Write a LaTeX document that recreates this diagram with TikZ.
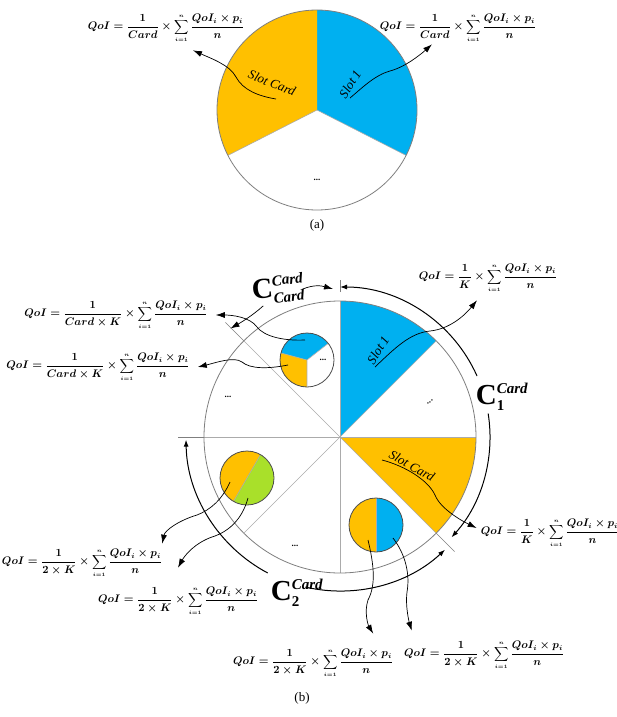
\documentclass[tikz,border=0pt]{standalone}
\usepackage{fontspec}
\setmainfont{Liberation Serif}
\usetikzlibrary{arrows.meta,positioning,calc}
\definecolor{Celeste}{HTML}{00B0F0}
\definecolor{Ambar}{HTML}{FFC000}
\definecolor{Lima}{HTML}{A9E02A}
\definecolor{GrisLinea}{HTML}{ABABAB}
\definecolor{GrisBorde}{HTML}{7F7F7F}
\newcommand{\qoi}[1]{$\displaystyle QoI=\frac{1}{#1}\times\sum_{\scriptscriptstyle i=1}^{\scriptscriptstyle n}\frac{QoI_i\times p_i}{n}$}
\newcommand{\cetiq}[1]{$\mbox{\bfseries C}^{\mbox{\fontsize{15}{15}\selectfont\bfseries\itshape Card}}_{\mbox{\fontsize{15}{15}\selectfont\bfseries #1}}$}

\begin{document}
\begin{tikzpicture}[x=1pt,y=1pt,
    formula/.style={inner sep=0pt,font=\fontsize{10.5}{12}\selectfont\boldmath},
    slotlbl/.style={font=\fontsize{13}{14}\selectfont\itshape},
    puntos/.style={font=\small\bfseries},
    cetq/.style={inner sep=0pt,font=\fontsize{29}{29}\selectfont},
    radio/.style={draw=GrisLinea,line width=.6pt},
    marca/.style={draw=GrisBorde,line width=.7pt},
    borde/.style={draw=GrisBorde,line width=.8pt},
    bordech/.style={draw=black!70,line width=.8pt},
    enlace/.style={-{Latex[length=9pt,width=6pt]},line width=.7pt},
    arco/.style={-{Latex[length=7pt,width=5pt]},line width=1pt}]
\useasboundingbox (0,0) rectangle (617,-717);
% (a)
\coordinate (ca) at (317,-110);
\fill[Celeste] (ca) -- ++(90:100) arc[start angle=90,end angle=-27,radius=100pt] -- cycle;
\fill[Ambar] (ca) -- ++(90:100) arc[start angle=90,end angle=207,radius=100pt] -- cycle;
\draw[radio] (ca) -- ++(-27:100) (ca) -- ++(207:100);
\draw[borde] (ca) circle[radius=100pt];
\node[slotlbl,rotate=-22] (sca) at (272,-83) {Slot Card};
\node[slotlbl,rotate=58] (s1a) at (350,-84) {Slot 1};
\node[puntos] (pa) at (317,-180) {...};
\node[formula] (fa1) at (166,-28) {\qoi{Card}};
\node[formula] (fa2) at (458,-28) {\qoi{Card}};
\node[font=\fontsize{13}{15}\selectfont] (etqa) at (317,-225) {(a)};
\coordinate (oa1) at (276,-99);
\coordinate (oa2) at (350,-98);
\draw[enlace] (oa1) .. controls (258,-96) and (243,-90) .. (236,-77) .. controls (230,-65) and (210,-58) .. ($(fa1.south)+(27,-8)$);
\draw[enlace] (oa2) .. controls (362,-88) and (375,-75) .. (390,-71) .. controls (405,-67) and (420,-55) .. ($(fa2.south)+(-26,-2)$);
% (b)
\coordinate (cb) at (340,-437);
\fill[Celeste] (cb) -- ++(45:136) arc[start angle=45,end angle=90,radius=136pt] -- cycle;
\fill[Ambar] (cb) -- ++(0:136) arc[start angle=0,end angle=-45,radius=136pt] -- cycle;
\foreach \a in {0,45,...,315} \draw[radio] (cb) -- ++(\a:136);
\draw[borde] (cb) circle[radius=136pt];
\draw[marca] (cb) ++(90:145) -- ++(90:12) coordinate (t90);
\foreach \a/\n in {135/t135,180/t180,-45/tm45} \draw[marca] (cb) ++(\a:136) -- ++(\a:26) coordinate (\n);
% arcos
\draw[arco] (cb) ++(24:150) arc[start angle=24,end angle=90,radius=150pt];
\draw[arco] (cb) ++(9:150) arc[start angle=9,end angle=-42,radius=150pt];
\draw[arco] (cb) ++(242:154) arc[start angle=242,end angle=181,radius=154pt];
\draw[arco] (cb) ++(257:154) arc[start angle=257,end angle=313,radius=154pt];
\node[cetq] (c1) at (502,-397) {\cetiq{1}};
\node[cetq] (c2) at (297,-593) {\cetiq{2}};
\node[cetq,rotate=6] (cc) at (278,-289) {\cetiq{\itshape Card}};
% sectores
\node[slotlbl,rotate=58] (s1b) at (378,-350) {Slot 1};
\node[slotlbl,rotate=-29] (scb) at (412,-466) {Slot Card};
\node[puntos,rotate=30] (pb1) at (430,-402) {...};
\node[puntos] (pb2) at (228,-397) {...};
\node[puntos] (pb3) at (295,-546) {...};
% circulos pequenos
\coordinate (sp1) at (307,-360);
\fill[Celeste] (sp1) -- ++(38:27) arc[start angle=38,end angle=165,radius=27pt] -- cycle;
\fill[Ambar] (sp1) -- ++(165:27) arc[start angle=165,end angle=270,radius=27pt] -- cycle;
\fill[white] (sp1) -- ++(270:27) arc[start angle=270,end angle=398,radius=27pt] -- cycle;
\draw[radio] (sp1) -- ++(38:27) (sp1) -- ++(165:27) (sp1) -- ++(270:27);
\draw[bordech] (sp1) circle[radius=27pt];
\node[puntos] (pc) at (323,-360) {...};
\coordinate (sp2) at (376,-525);
\fill[Ambar] (sp2) -- ++(90:27) arc[start angle=90,end angle=270,radius=27pt] -- cycle;
\fill[Celeste] (sp2) -- ++(270:27) arc[start angle=270,end angle=450,radius=27pt] -- cycle;
\draw[radio] (sp2) ++(90:27) -- ++(270:54);
\draw[bordech] (sp2) circle[radius=27pt];
\coordinate (sp3) at (247,-478);
\fill[Ambar] (sp3) -- ++(60:27) arc[start angle=60,end angle=240,radius=27pt] -- cycle;
\fill[Lima] (sp3) -- ++(240:27) arc[start angle=240,end angle=420,radius=27pt] -- cycle;
\draw[radio] (sp3) ++(60:27) -- ++(240:54);
\draw[bordech] (sp3) circle[radius=27pt];
% formulas
\node[formula] (fk1) at (488,-278) {\qoi{K}};
\node[formula] (fck1) at (116,-315) {\qoi{Card\times K}};
\node[formula] (fck2) at (98,-367) {\qoi{Card\times K}};
\node[formula] (fk2) at (550,-533) {\qoi{K}};
\node[formula] (f2k1) at (82,-563) {\qoi{2\times K}};
\node[formula] (f2k2) at (178,-601) {\qoi{2\times K}};
\node[formula] (f2k3) at (313,-663) {\qoi{2\times K}};
\node[formula] (f2k4) at (484,-655) {\qoi{2\times K}};
\node[font=\fontsize{13}{15}\selectfont] (etqb) at (302,-698) {(b)};
% enlaces
\coordinate (o1) at (305,-340);
\coordinate (o2) at (288,-365);
\coordinate (o3) at (375,-367);
\coordinate (o4) at (382,-460);
\coordinate (o5) at (368,-540);
\coordinate (o6) at (393,-538);
\coordinate (o7) at (230,-482);
\coordinate (o8) at (248,-498);
\draw[enlace] (o1) .. controls (282,-341) and (264,-336) .. (257,-327) .. controls (250,-317) and (232,-315) .. ($(fck1.east)+(8,0)$);
\draw[enlace] (o2) .. controls (268,-369) and (250,-369) .. (242,-362) .. controls (234,-356) and (215,-363) .. ($(fck2.east)+(8,0)$);
\draw[enlace] (o3) .. controls (395,-348) and (410,-333) .. (430,-331) .. controls (450,-329) and (465,-315) .. ($(fk1.south)+(-11,-8)$);
\draw[enlace] (o4) .. controls (405,-466) and (428,-480) .. (435,-495) .. controls (440,-508) and (460,-520) .. ($(fk2.west)+(-4,5)$);
\draw[enlace] (o5) .. controls (374,-565) and (376,-585) .. (368,-600) .. controls (364,-612) and (368,-625) .. ($(f2k3.north east)+(-20,15)$);
\draw[enlace] (o6) .. controls (406,-555) and (410,-575) .. (407,-592) .. controls (405,-608) and (410,-625) .. ($(f2k4.north west)+(8,10)$);
\draw[enlace] (o7) .. controls (222,-500) and (210,-510) .. (197,-515) .. controls (180,-520) and (165,-530) .. ($(f2k1.north east)+(0,5)$);
\draw[enlace] (o8) .. controls (242,-520) and (228,-532) .. (212,-537) .. controls (195,-543) and (185,-555) .. ($(f2k2.north)+(0,19)$);
\draw[enlace] ($(cc.south west)+(10,0)$) .. controls (252,-316) and (240,-323) .. ($(t135)+(5,-6)$);
\draw[enlace] ($(cc.east)+(-2,-3)$) .. controls (315,-284) and (322,-286) .. ($(t90)+(-7,-9)$);
\end{tikzpicture}
\end{document}
